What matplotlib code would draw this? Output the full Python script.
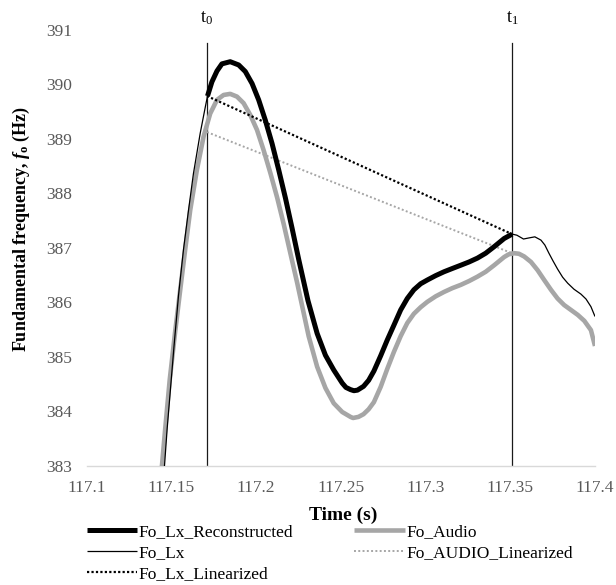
import matplotlib
matplotlib.use("Agg")
import matplotlib.pyplot as plt

plt.rcParams["font.family"] = ["Liberation Serif", "DejaVu Serif"]
plt.rcParams["mathtext.fontset"] = "custom"
plt.rcParams["mathtext.rm"] = "Liberation Serif"
plt.rcParams["mathtext.it"] = "Liberation Serif:italic:bold"
plt.rcParams["mathtext.bf"] = "Liberation Serif:bold"

# Segment boundaries (s)
t0 = 117.171
t1 = 117.351

# Fo_Lx_Reconstructed, t0..t1
recon_time = [117.1713, 117.1739, 117.1769, 117.1798, 117.1847, 117.1897, 117.1936,
              117.1976, 117.2015, 117.2054, 117.2094, 117.2133, 117.2173, 117.2212,
              117.2251, 117.2306, 117.2360, 117.2409, 117.2458, 117.2508, 117.2530,
              117.2557, 117.2577, 117.2598, 117.2634, 117.2664, 117.2695, 117.2735,
              117.2774, 117.2813, 117.2853, 117.2892, 117.2931, 117.2971, 117.3011,
              117.3060, 117.3109, 117.3158, 117.3208, 117.3257, 117.3306, 117.3355,
              117.3405, 117.3464, 117.3511]
recon_f0 = [389.78, 390.04, 390.24, 390.37, 390.41, 390.35, 390.23,
            390.01, 389.71, 389.34, 388.91, 388.43, 387.91, 387.36,
            386.79, 386.03, 385.43, 385.03, 384.76, 384.52, 384.44,
            384.40, 384.38, 384.39, 384.46, 384.57, 384.74, 385.02,
            385.31, 385.58, 385.86, 386.07, 386.23, 386.34, 386.41,
            386.49, 386.56, 386.62, 386.68, 386.74, 386.81, 386.90,
            387.02, 387.17, 387.25]

# Fo_Lx outside the reconstructed segment
lx_rise_time = [117.1440, 117.1459, 117.1475, 117.1493, 117.1516, 117.1542,
                117.1571, 117.1601, 117.1630, 117.1670, 117.1700]
lx_rise_f0 = [382.70, 383.00, 383.69, 384.36, 385.22, 386.13,
              386.96, 387.69, 388.36, 389.10, 389.58]
lx_tail_time = [117.3539, 117.3578, 117.3610, 117.3645, 117.3681, 117.3704,
                117.3728, 117.3752, 117.3779, 117.3809, 117.3839, 117.3876,
                117.3917, 117.3947, 117.3976, 117.4000]
lx_tail_f0 = [387.23, 387.16, 387.18, 387.20, 387.14, 387.05,
              386.90, 386.76, 386.61, 386.46, 386.35, 386.24,
              386.15, 386.06, 385.92, 385.74]

# Fo_Audio
audio_time = [117.1425, 117.1444, 117.1463, 117.1490, 117.1522, 117.1552, 117.1581,
              117.1611, 117.1650, 117.1690, 117.1729, 117.1769, 117.1808, 117.1847,
              117.1887, 117.1926, 117.1966, 117.2005, 117.2044, 117.2084, 117.2124,
              117.2163, 117.2202, 117.2242, 117.2310, 117.2360, 117.2409, 117.2458,
              117.2508, 117.2557, 117.2572, 117.2604, 117.2634, 117.2664, 117.2695,
              117.2735, 117.2774, 117.2813, 117.2853, 117.2892, 117.2931, 117.2971,
              117.3011, 117.3060, 117.3109, 117.3158, 117.3208, 117.3257, 117.3306,
              117.3355, 117.3405, 117.3464, 117.3491, 117.3523, 117.3551, 117.3582,
              117.3622, 117.3661, 117.3700, 117.3740, 117.3779, 117.3818, 117.3858,
              117.3898, 117.3937, 117.3976, 117.4000]
audio_f0 = [382.70, 383.00, 383.67, 384.58, 385.46, 386.23, 386.96,
            387.69, 388.42, 389.04, 389.46, 389.71, 389.80, 389.82,
            389.77, 389.65, 389.43, 389.16, 388.79, 388.37, 387.92,
            387.43, 386.90, 386.36, 385.38, 384.82, 384.43, 384.15,
            383.99, 383.90, 383.88, 383.90, 383.95, 384.04, 384.17,
            384.45, 384.78, 385.09, 385.38, 385.62, 385.79, 385.91,
            386.01, 386.11, 386.19, 386.26, 386.32, 386.39, 386.47,
            386.56, 386.68, 386.83, 386.88, 386.90, 386.89, 386.84,
            386.74, 386.59, 386.41, 386.23, 386.07, 385.95, 385.86,
            385.77, 385.66, 385.49, 385.20]

# Linear trends between t0 and t1
lx_lin_f0 = [389.78, 387.25]
audio_lin_f0 = [389.12, 386.90]

marker_top = 390.75

x_ticks = [117.1, 117.15, 117.2, 117.25, 117.3, 117.35, 117.4]
x_tick_labels = ["117.1", "117.15", "117.2", "117.25", "117.3", "117.35", "117.4"]
y_ticks = [383, 384, 385, 386, 387, 388, 389, 390, 391]

W, H = 616, 585
fig = plt.figure(figsize=(W / 100, H / 100), dpi=100)
ax = fig.add_axes([86.7 / W, 1 - 466 / H, (595 - 86.7) / W, (466 - 29.5) / H])

ax.set_xlim(117.1, 117.4)
ax.set_ylim(383, 391)

# boundary markers
for tb in (t0, t1):
    ax.plot([tb, tb], [383, marker_top], color="#1a1a1a", lw=0.9, zorder=2)
ax.text(t0, 391.21, r"$\mathrm{t}_0$", ha="center", va="center", fontsize=13,
        color="black", clip_on=False)
ax.text(t1, 391.21, r"$\mathrm{t}_1$", ha="center", va="center", fontsize=13,
        color="black", clip_on=False)

lx_time = lx_rise_time + recon_time + lx_tail_time
lx_f0 = lx_rise_f0 + recon_f0 + lx_tail_f0

curve_kw = dict(solid_joinstyle="round", solid_capstyle="butt")
h_audio, = ax.plot(audio_time, audio_f0, color="#a6a6a6", lw=3.3, zorder=3,
                   label="Fo_Audio", **curve_kw)
h_alin, = ax.plot([t0, t1], audio_lin_f0, color="#a6a6a6", lw=1.4,
                  linestyle=(0, (1, 1.2)), zorder=4, label="Fo_AUDIO_Linearized")
h_lx, = ax.plot(lx_time, lx_f0, color="black", lw=0.9, zorder=5, label="Fo_Lx",
                **curve_kw)
h_recon, = ax.plot(recon_time, recon_f0, color="black", lw=3.6, zorder=6,
                   label="Fo_Lx_Reconstructed", **curve_kw)
h_llin, = ax.plot([t0, t1], lx_lin_f0, color="black", lw=1.6,
                  linestyle=(0, (1, 1)), zorder=7, label="Fo_Lx_Linearized")

ax.set_xticks(x_ticks)
ax.set_xticklabels(x_tick_labels)
ax.set_yticks(y_ticks)
ax.tick_params(axis="both", length=0, labelsize=12.5, labelcolor="#595959")
ax.tick_params(axis="x", pad=10)
ax.tick_params(axis="y", pad=10.5)

for side in ("left", "right", "top"):
    ax.spines[side].set_visible(False)
ax.spines["bottom"].set_color("#d9d9d9")
ax.spines["bottom"].set_linewidth(1.0)

fig.text(343 / W, 1 - 515 / H, "Time (s)", ha="center", va="center",
         fontsize=14, fontweight="bold")
fig.text(21.7 / W, 1 - 229 / H, r"Fundamental frequency, $\mathit{f}_\mathbf{o}$ (Hz)",
         ha="center", va="center", rotation=90, fontsize=13, fontweight="bold")

leg = fig.legend([h_recon, h_lx, h_llin, h_audio, h_alin],
                 ["Fo_Lx_Reconstructed", "Fo_Lx", "Fo_Lx_Linearized",
                  "Fo_Audio", "Fo_AUDIO_Linearized"],
                 loc="upper left", bbox_to_anchor=(86.7 / W, 1 - 524 / H),
                 ncol=2, frameon=False, fontsize=12.5, handlelength=2.9,
                 handletextpad=0.1, columnspacing=3.5, labelspacing=0.28,
                 borderpad=0, borderaxespad=0)

fig.savefig("out.png", dpi=100, facecolor="white")
